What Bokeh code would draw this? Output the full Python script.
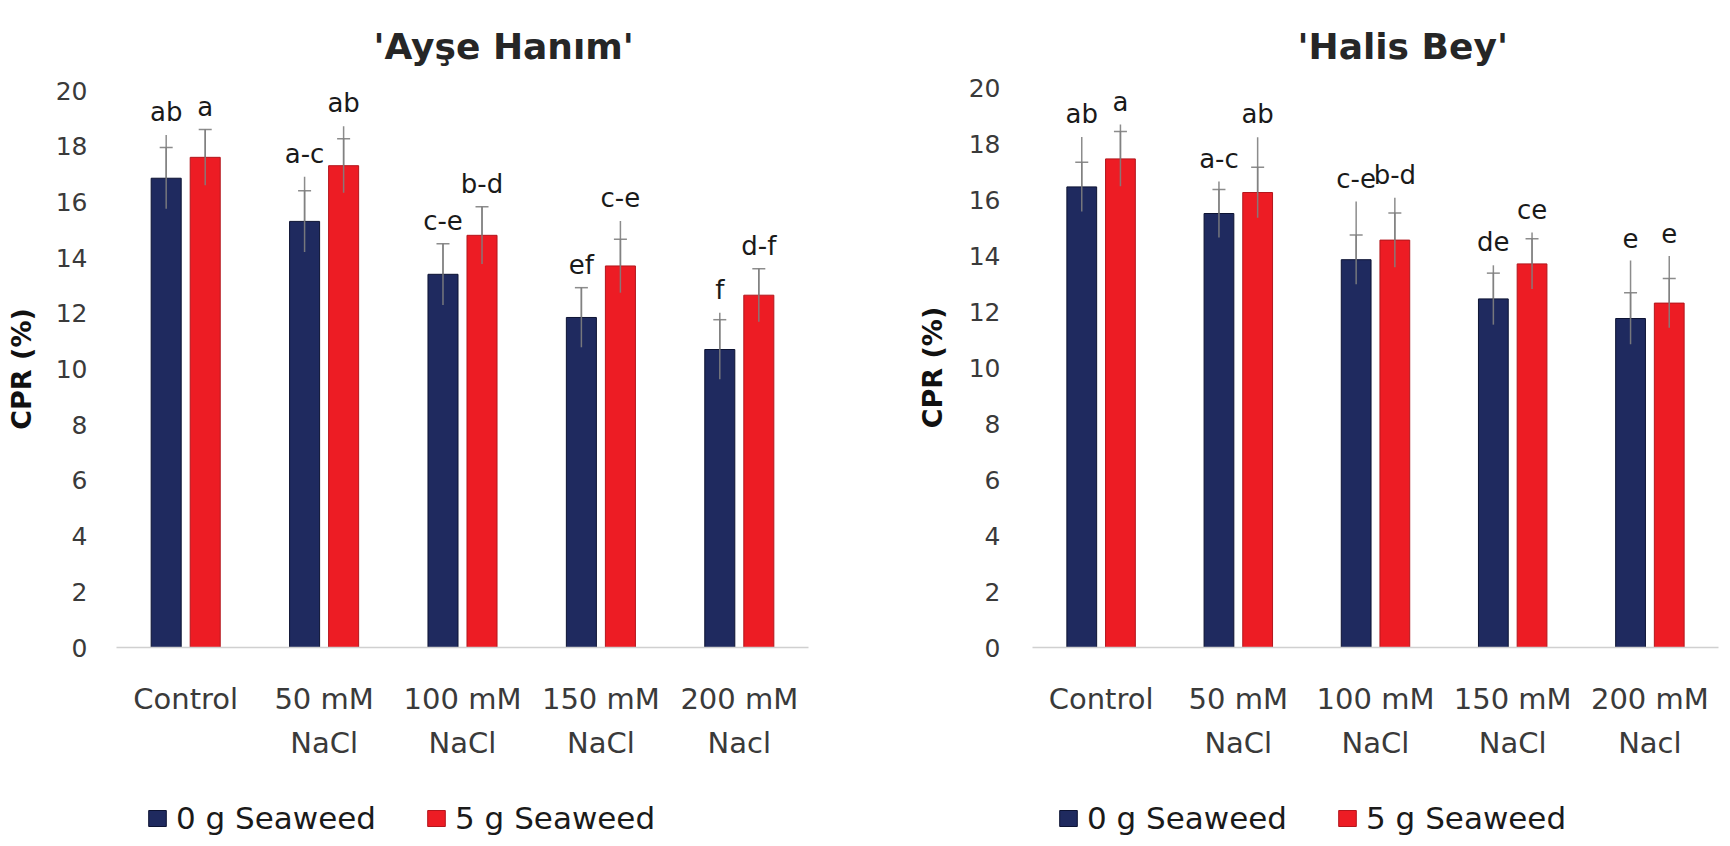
from bokeh.plotting import figure
from bokeh.models import (Range1d, FixedTicker, Whisker, ColumnDataSource, LabelSet,
                          Legend, LegendItem, TeeHead)
from bokeh.layouts import row, column
from bokeh.core.properties import value
from bokeh.embed import file_html
from bokeh.resources import INLINE

# ---------------- data ----------------
categories = ["Control", "50 mM\nNaCl", "100 mM\nNaCl", "150 mM\nNaCl", "200 mM\nNacl"]
series = ["0 g Seaweed", "5 g Seaweed"]
y_ticks = [0, 2, 4, 6, 8, 10, 12, 14, 16, 18, 20]

ayse_title = "'Ayşe Hanım'"
ayse_0g = [16.85, 15.3, 13.4, 11.85, 10.7]
ayse_5g = [17.6, 17.3, 14.8, 13.7, 12.65]
ayse_0g_err = [1.1, 1.1, 1.1, 1.07, 1.07]
ayse_5g_err = [1.0, 0.97, 1.03, 0.96, 0.95]
ayse_0g_ext = [0.45, 0.5, 0.0, 0.0, 0.25]
ayse_5g_ext = [0.0, 0.45, 0.0, 0.65, 0.0]
ayse_0g_letters = ["ab", "a-c", "c-e", "ef", "f"]
ayse_5g_letters = ["a", "ab", "b-d", "c-e", "d-f"]

halis_title = "'Halis Bey'"
halis_0g = [16.45, 15.5, 13.85, 12.45, 11.75]
halis_5g = [17.45, 16.25, 14.55, 13.7, 12.3]
halis_0g_err = [0.88, 0.86, 0.88, 0.92, 0.92]
halis_5g_err = [0.98, 0.9, 0.97, 0.9, 0.88]
halis_0g_ext = [0.9, 0.28, 1.2, 0.28, 1.15]
halis_5g_ext = [0.25, 1.07, 0.54, 0.22, 0.8]
halis_0g_letters = ["ab", "a-c", "c-e", "de", "e"]
halis_5g_letters = ["a", "ab", "b-d", "ce", "e"]

# ---------------- style ----------------
BLUE = "#1f2a5f"
BLUE_EDGE = "#0d1333"
RED = "#ed1c24"
RED_EDGE = "#b3161c"
ERR = "#808080"
FONT = "DejaVu Sans"
TICK_COLOR = "#3a3a3a"
OFFSET = 0.141
BAR_W = 0.217
LABEL_GAP = 0.82  # data units above whisker top
CHART_H = 790
LEG_H = 54
TOP = 87
FRAME_H = 560


def make_panel(title, v0, v5, e0, e5, x0ext, x5ext, l0, l5, width, bl, br,
               title_off, title_standoff, tick_standoff, ylab_standoff, legend_x):
    n = len(categories)
    p = figure(width=width, height=CHART_H, x_range=Range1d(0, n), y_range=Range1d(0, 20),
               output_backend="svg", toolbar_location=None,
               min_border_left=bl, min_border_right=br, min_border_top=TOP,
               min_border_bottom=CHART_H - TOP - FRAME_H)
    p.outline_line_color = None
    p.grid.visible = False

    sources = []
    for vals, errs, exts, letters, off, col, edge in (
            (v0, e0, x0ext, l0, -OFFSET, BLUE, BLUE_EDGE),
            (v5, e5, x5ext, l5, OFFSET, RED, RED_EDGE)):
        xs = [i + 0.5 + off for i in range(n)]
        up = [v + e for v, e in zip(vals, errs)]
        lo = [v - e for v, e in zip(vals, errs)]
        top_line = [u + x for u, x in zip(up, exts)]
        lab_y = [t + LABEL_GAP for t in top_line]
        src = ColumnDataSource(dict(x=xs, top=vals, up=up, lo=lo, tl=top_line,
                                    ly=lab_y, letter=letters))
        sources.append(src)
        p.vbar(x="x", top="top", width=BAR_W, source=src, fill_color=col,
               line_color=edge, line_width=1)
        p.segment(x0="x", y0="lo", x1="x", y1="tl", source=src, line_color=ERR,
                  line_width=1.5, line_alpha=0.9)
        w = Whisker(base="x", upper="up", lower="lo", source=src, line_color=ERR,
                    line_width=1.5, line_alpha=0.9,
                    upper_head=TeeHead(size=13, line_color=ERR, line_width=1.5, line_alpha=0.9),
                    lower_head=TeeHead(size=13, line_color=ERR, line_width=1.5, line_alpha=0.9))
        p.add_layout(w)
        ls = LabelSet(x="x", y="ly", text="letter", source=src, text_align="center",
                      text_baseline="middle", text_font=value(FONT),
                      text_font_size=value("26px"), text_color="#1a1a1a")
        p.add_layout(ls)

    # y axis
    p.yaxis.ticker = FixedTicker(ticks=y_ticks)
    p.yaxis.axis_line_color = None
    p.yaxis.major_tick_line_color = None
    p.yaxis.minor_tick_line_color = None
    p.yaxis.major_tick_out = 0
    p.yaxis.major_tick_in = 0
    p.yaxis.major_label_standoff = tick_standoff
    p.yaxis.major_label_text_font = FONT
    p.yaxis.major_label_text_font_size = "25px"
    p.yaxis.major_label_text_color = TICK_COLOR
    p.yaxis.axis_label = "CPR (%)"
    p.yaxis.axis_label_text_font = FONT
    p.yaxis.axis_label_text_font_style = "bold"
    p.yaxis.axis_label_text_font_size = "27px"
    p.yaxis.axis_label_text_color = "#111111"
    p.yaxis.axis_label_standoff = ylab_standoff

    # x axis
    p.xaxis.ticker = FixedTicker(ticks=[i + 0.5 for i in range(n)])
    p.xaxis.major_label_overrides = {i + 0.5: c for i, c in enumerate(categories)}
    p.xaxis.axis_line_color = "#d0d0d0"
    p.xaxis.axis_line_width = 1.5
    p.xaxis.major_tick_line_color = None
    p.xaxis.minor_tick_line_color = None
    p.xaxis.major_tick_out = 0
    p.xaxis.major_tick_in = 0
    p.xaxis.major_label_standoff = 34
    p.xaxis.major_label_text_font = FONT
    p.xaxis.major_label_text_font_size = "29px"
    p.xaxis.major_label_text_color = TICK_COLOR
    p.xaxis.major_label_text_line_height = 1.3

    # title
    p.title.text = title
    p.title.align = "left"
    p.title.offset = title_off
    p.title.standoff = title_standoff
    p.title.text_font = FONT
    p.title.text_font_style = "bold"
    p.title.text_font_size = "36px"
    p.title.text_color = "#262626"

    # legend strip below the chart (its frame is aligned with the chart's frame)
    lg = figure(width=width, height=LEG_H, x_range=Range1d(0, n), y_range=Range1d(0, 20),
                output_backend="svg", toolbar_location=None, min_border=0,
                x_axis_location=None, y_axis_location=None)
    lg.outline_line_color = None
    lg.grid.visible = False
    r0 = lg.vbar(x="x", top="top", width=BAR_W, source=sources[0], fill_color=BLUE,
                 line_color=BLUE_EDGE, visible=False)
    r5 = lg.vbar(x="x", top="top", width=BAR_W, source=sources[1], fill_color=RED,
                 line_color=RED_EDGE, visible=False)
    legend = Legend(items=[LegendItem(label=series[0], renderers=[r0]),
                           LegendItem(label=series[1], renderers=[r5])],
                    orientation="horizontal", location=(legend_x, 8),
                    glyph_width=22, glyph_height=20, label_standoff=8, spacing=49,
                    padding=0, margin=0, border_line_color=None,
                    background_fill_alpha=0, inactive_fill_alpha=0,
                    label_text_font=FONT,
                    label_text_font_size="31px", label_text_color="#1a1a1a")
    lg.add_layout(legend)
    return column(p, lg)


c1 = make_panel(ayse_title, ayse_0g, ayse_5g, ayse_0g_err, ayse_5g_err, ayse_0g_ext,
                ayse_5g_ext, ayse_0g_letters, ayse_5g_letters,
                width=864, bl=116, br=56, title_off=257, title_standoff=47,
                tick_standoff=29, ylab_standoff=16, legend_x=30)
c2 = make_panel(halis_title, halis_0g, halis_5g, halis_0g_err, halis_5g_err, halis_0g_ext,
                halis_5g_ext, halis_0g_letters, halis_5g_letters,
                width=858, bl=168, br=4, title_off=265, title_standoff=41,
                tick_standoff=32, ylab_standoff=18, legend_x=25)

layout = row(c1, c2)
open("out.html", "w").write(file_html(layout, INLINE))
